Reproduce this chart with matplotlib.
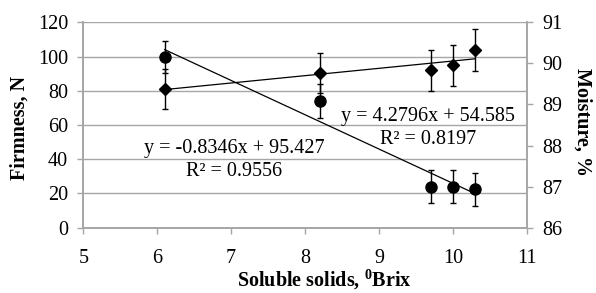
import numpy as np
import matplotlib
matplotlib.use("Agg")
import matplotlib.pyplot as plt

plt.rcParams['font.family'] = ['Liberation Serif', 'DejaVu Serif']
plt.rcParams['mathtext.fontset'] = 'custom'
plt.rcParams['mathtext.rm'] = 'Liberation Serif'
plt.rcParams['mathtext.bf'] = 'Liberation Serif:bold'

# data
brix = [6.1, 8.2, 9.7, 10.0, 10.3]
firmness = [81.0, 90.2, 92.1, 95.0, 103.8]
firmnessErr = [11.8, 11.7, 12.0, 12.0, 12.0]
moisture = [90.15, 89.08, 87.0, 87.0, 86.94]
moistureErr = [0.39, 0.41, 0.40, 0.40, 0.40]

# trendline coefficients (from chart labels)
firmFit = [4.2796, 54.585]
moistFit = [-0.8346, 95.427]

gray = '#a6a6a6'
fs = 14.5
W, H = 596, 293


def px(x, y):
    # pixel position (from top-left) -> figure fraction
    return x / W, 1 - y / H


fig = plt.figure(figsize=(W / 100, H / 100), dpi=100)
ax = fig.add_axes([0.1398, 0.2229, 0.7439, 0.7010])
ax2 = ax.twinx()

# firmness (left axis, diamonds)
ax.errorbar(brix, firmness, yerr=firmnessErr, fmt='D', color='black', ms=6.5,
            ecolor='black', elinewidth=1, capsize=2.5, capthick=1, zorder=3)
xs = np.array([brix[0], brix[-1]])
ax.plot(xs, np.polyval(firmFit, xs), color='black', lw=0.9, zorder=2)

# moisture (right axis, circles)
ax2.errorbar(brix, moisture, yerr=moistureErr, fmt='o', color='black', ms=8,
             ecolor='black', elinewidth=1, capsize=2.5, capthick=1, zorder=3)
ax2.plot(xs, np.polyval(moistFit, xs), color='black', lw=0.9, zorder=2)

ax.set_xlim(5, 11)
ax.set_ylim(0, 120)
ax2.set_ylim(86, 91)
ax.set_xticks(range(5, 12))
ax.set_yticks(range(0, 121, 20))
ax2.set_yticks(range(86, 92))
ax.yaxis.grid(True, color=gray, lw=1)
ax.set_axisbelow(True)

for a in (ax, ax2):
    a.spines['top'].set_visible(False)
    for s in ('left', 'bottom', 'right'):
        a.spines[s].set_color(gray)
        a.spines[s].set_linewidth(1.2)
    a.tick_params(colors=gray, labelcolor='black', labelsize=fs, length=4, width=1)
ax.tick_params(axis='x', pad=11)
ax.tick_params(axis='y', pad=7)
ax2.tick_params(axis='y', pad=7)

# trendline equations
fig.text(*px(234, 148), 'y = -0.8346x + 95.427', fontsize=fs,
         ha='center', va='center')
fig.text(*px(234, 171), 'R² = 0.9556', fontsize=fs,
         ha='center', va='center')
fig.text(*px(428, 117), 'y = 4.2796x + 54.585', fontsize=fs,
         ha='center', va='center')
fig.text(*px(428, 140), 'R² = 0.8197', fontsize=fs,
         ha='center', va='center')

# axis labels
fig.text(*px(20, 128), 'Firmness, N', rotation=90, fontsize=fs,
         fontweight='bold', ha='center', va='center')
fig.text(*px(582, 122), 'Moisture, %', rotation=270, fontsize=fs,
         fontweight='bold', ha='center', va='center')
fig.text(*px(324, 286), r'Soluble solids, $\mathbf{^{0}}$Brix',
         fontsize=fs, fontweight='bold', ha='center', va='baseline')

fig.savefig('out.png', dpi=100)
